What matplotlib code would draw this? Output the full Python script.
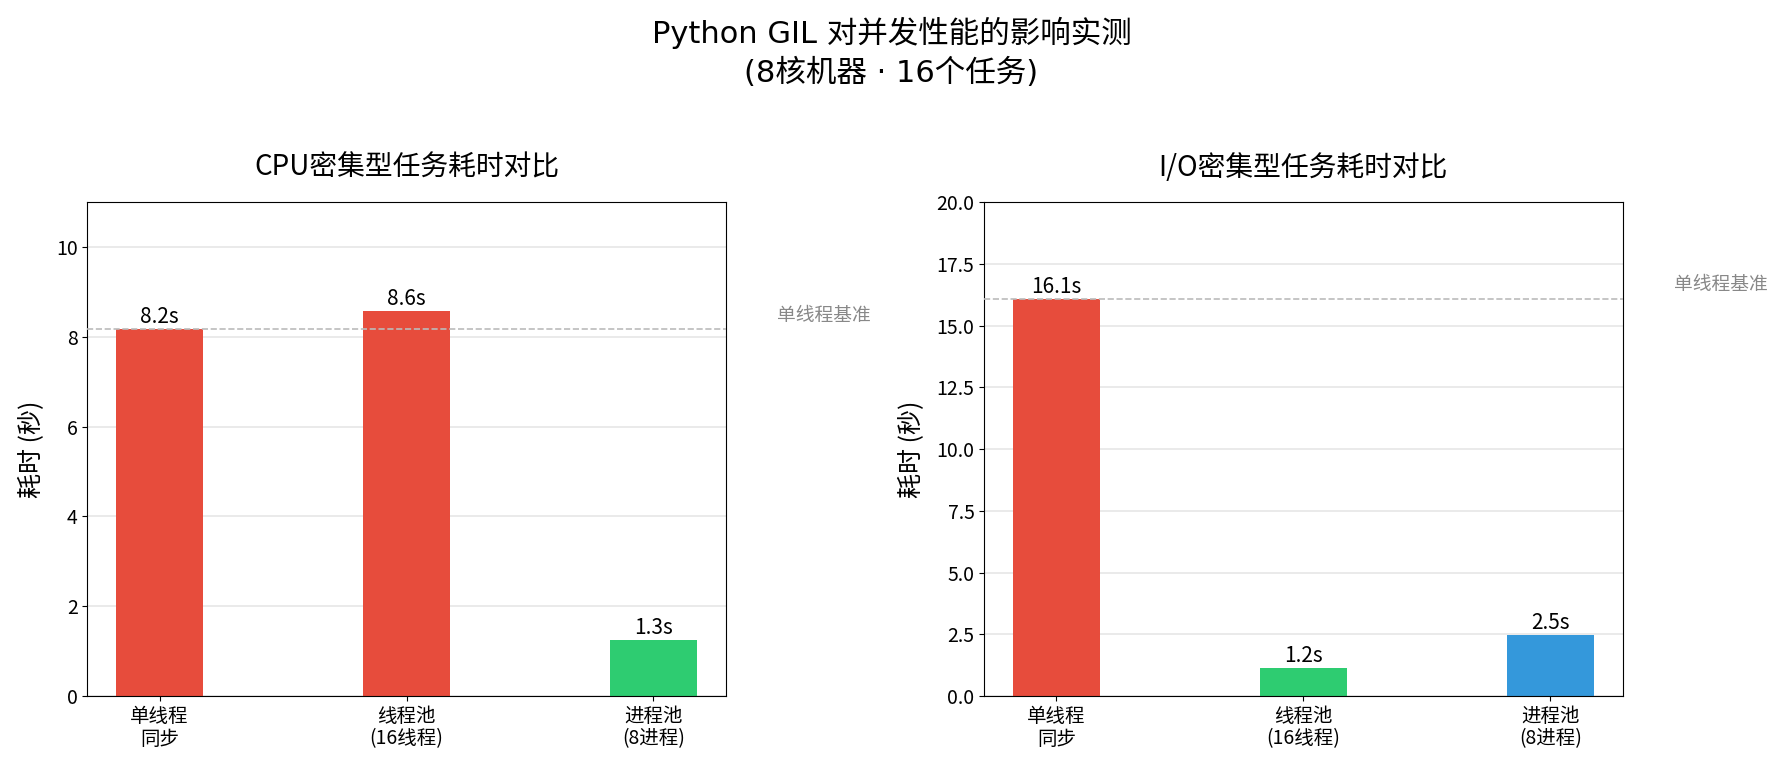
import matplotlib
matplotlib.use("Agg")
import matplotlib.pyplot as plt
import numpy as np

plt.rcParams['font.family'] = ['Noto Sans CJK SC', 'DejaVu Sans']
plt.rcParams['axes.unicode_minus'] = False

# 数据
categories = ["单线程\n同步", "线程池\n(16线程)", "进程池\n(8进程)"]
cpu_times = [8.18, 8.57, 1.26]
io_times = [16.08, 1.16, 2.46]
cpu_colors = ["#e74c3c", "#e74c3c", "#2ecc71"]
io_colors = ["#e74c3c", "#2ecc71", "#3498db"]

fig = plt.figure(figsize=(17.83, 7.71), dpi=100)
ax1 = fig.add_axes([0.049, 0.097, 0.358, 0.641])
ax2 = fig.add_axes([0.552, 0.097, 0.358, 0.641])

fig.suptitle("Python GIL 对并发性能的影响实测\n(8核机器 \u00b7 16个任务)",
             fontsize=22, y=0.978, linespacing=1.35,
             family=['DejaVu Sans', 'Noto Sans CJK SC'])


def draw(ax, vals, colors, title, ymax, yticks):
    x = np.arange(len(categories))
    bars = ax.bar(x, vals, width=0.35, color=colors, zorder=2)
    for b, v in zip(bars, vals):
        ax.text(b.get_x() + b.get_width() / 2, v + ymax * 0.002, "%.1fs" % v,
                ha="center", va="bottom", fontsize=15)
    base = vals[0]
    ax.axhline(base, color="#bbbbbb", linestyle="--", linewidth=1.2, zorder=3)
    ax.text(2.5, base * 1.035, "单线程基准", color="#888888", fontsize=13.5,
            ha="left", va="center")
    ax.set_xticks(x)
    ax.set_xticklabels(categories, fontsize=14, linespacing=1.1)
    ax.set_ylim(0, ymax)
    ax.set_yticks(yticks)
    ax.tick_params(axis="y", labelsize=14)
    ax.set_ylabel("耗时 (秒)", fontsize=18, labelpad=8)
    ax.set_title(title, fontsize=20, pad=19)
    ax.grid(axis="y", color="#e6e6e6", linewidth=1.2, zorder=0)
    ax.set_axisbelow(True)


draw(ax1, cpu_times, cpu_colors, "CPU密集型任务耗时对比", 11, [0, 2, 4, 6, 8, 10])
draw(ax2, io_times, io_colors, "I/O密集型任务耗时对比", 20,
     [0, 2.5, 5, 7.5, 10, 12.5, 15, 17.5, 20])
ax2.set_yticklabels(["%.1f" % t for t in ax2.get_yticks()])

fig.savefig("out.png", dpi=100)
